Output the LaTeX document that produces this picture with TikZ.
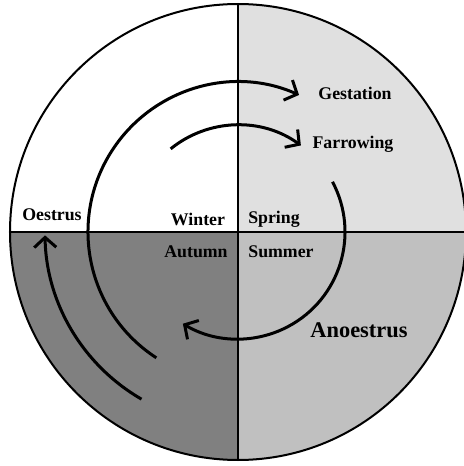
\documentclass[tikz,border=0pt]{standalone}
\usepackage{fontspec}
\setmainfont{Liberation Serif}
\usepackage{xcolor}
\usetikzlibrary{arrows.meta, positioning, calc}
\definecolor{springgray}{HTML}{E0E0E0}
\definecolor{summergray}{HTML}{C0C0C0}
\definecolor{autumngray}{HTML}{808080}

\begin{document}
\begin{tikzpicture}[
  x=0.5pt, y=0.5pt,
  season/.style={font=\fontsize{8.9}{10}\selectfont\bfseries, inner sep=0pt},
  phase/.style={font=\fontsize{8.9}{10}\selectfont\bfseries, inner sep=0pt},
  bigphase/.style={font=\fontsize{11.2}{13}\selectfont\bfseries, inner sep=0pt},
  cycle/.style={line width=1.5pt, -{Straight Barb[length=5pt, width=11pt, line width=1.5pt]}},
  border/.style={line width=1pt}
]
  \useasboundingbox (-238,232) rectangle (226,-234);
  \coordinate (c) at (0,0);

  % Quadrants
  \fill[springgray] (c) -- (0:228) arc (0:90:228) -- cycle;
  \fill[summergray] (c) -- (270:228) arc (270:360:228) -- cycle;
  \fill[autumngray] (c) -- (180:228) arc (180:270:228) -- cycle;
  \draw[border] (c) circle (228);
  \draw[border] (180:228) -- (0:228);
  \draw[border] (90:228) -- (270:228);

  % Cycle arrows
  \coordinate (g0) at (237:150);
  \coordinate (f0) at (129:107);
  \coordinate (a0) at (28:107);
  \coordinate (o0) at (240:193);
  \draw[cycle] (g0) arc (237:66:150);
  \draw[cycle] (f0) arc (129:54:107);
  \draw[cycle] (a0) arc (28:-121:107);
  \draw[cycle] (o0) arc (240:181:193);

  % Labels
  \node[phase] (gest) at (117,139) {Gestation};
  \node[phase] (farr) at (115,88) {Farrowing};
  \node[phase] (oest) at (-186,17) {Oestrus};
  \node[bigphase] (anoe) at (121,-98) {Anoestrus};
  \node[season] (win) at (-40,13) {Winter};
  \node[season] (spr) at (36,13) {Spring};
  \node[season] (aut) at (-42,-20) {Autumn};
  \node[season] (sum) at (43,-20) {Summer};
\end{tikzpicture}
\end{document}
